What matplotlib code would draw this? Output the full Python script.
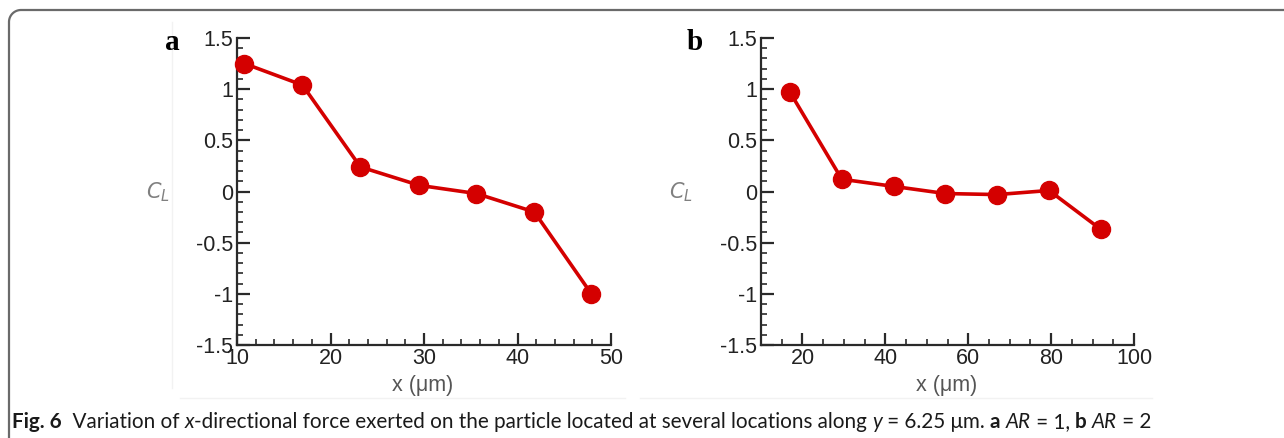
import matplotlib
matplotlib.use("Agg")
import matplotlib.pyplot as plt
from matplotlib.ticker import MultipleLocator, FixedLocator
from matplotlib.lines import Line2D
import numpy as np

# ---- data ----
x_a = [10.8, 17.0, 23.2, 29.5, 35.6, 41.8, 47.9]
cl_a = [1.25, 1.04, 0.24, 0.06, -0.02, -0.20, -1.00]
x_b = [17.0, 29.5, 42.0, 54.5, 67.0, 79.5, 92.0]
cl_b = [0.97, 0.12, 0.05, -0.02, -0.03, 0.01, -0.37]
yticks = [-1.5, -1, -0.5, 0, 0.5, 1, 1.5]
ytick_labels = ["-1.5", "-1", "-0.5", "0", "0.5", "1", "1.5"]
xticks_a = [10, 20, 30, 40, 50]
xticks_b = [20, 40, 60, 80, 100]
panel_labels = ["a", "b"]
xlabel = "x (μm)"

plt.rcParams["font.family"] = ["Liberation Sans", "DejaVu Sans"]
plt.rcParams["mathtext.fontset"] = "dejavusans"

W, H = 1284, 438
fig = plt.figure(figsize=(W / 100, H / 100), dpi=100)
fig.patch.set_facecolor("white")

def fx(px):
    return px / W

def fy(py):
    return 1 - py / H

red = "#d40000"
axcol = "#2a2a2a"

def make_axes(left, right, xlim, xticks, xminor, x, y, label, lx):
    ax = fig.add_axes([fx(left), fy(345), fx(right) - fx(left), fy(38) - fy(345)])
    ax.set_xlim(*xlim)
    ax.set_ylim(-1.5, 1.5)
    for s in ["top", "right"]:
        ax.spines[s].set_visible(False)
    for s in ["left", "bottom"]:
        ax.spines[s].set_linewidth(1.6)
        ax.spines[s].set_color(axcol)
    ax.yaxis.set_major_locator(FixedLocator(yticks))
    ax.set_yticklabels(ytick_labels)
    ax.yaxis.set_minor_locator(MultipleLocator(0.1))
    ax.xaxis.set_major_locator(FixedLocator(xticks))
    ax.set_xticklabels([str(t) for t in xticks])
    ax.xaxis.set_minor_locator(MultipleLocator(xminor))
    ax.tick_params(which="major", direction="in", length=9, width=1.6, color=axcol,
                   labelsize=15.5, labelcolor="#222222", pad=3)
    ax.tick_params(which="minor", direction="in", length=4.5, width=1.2, color=axcol)
    ax.tick_params(axis="x", which="major", pad=2)
    ax.plot(x, y, color=red, lw=2.6, marker="o", markersize=13,
            markerfacecolor=red, markeredgecolor=red, clip_on=False, zorder=3)
    cxp = (left + right) / 2 - 1
    fig.text(fx(cxp), fy(385), xlabel, fontsize=15.5, color="#555555",
             ha="center", va="center")
    fig.text(fx(lx), fy(42), label, fontsize=21, fontweight="bold",
             family="Liberation Serif", ha="center", va="center", color="black")
    fig.text(fx(lx - 14), fy(192), r"$\mathit{C}_{\mathit{L}}$", fontsize=15,
             color="#808080", ha="center", va="center")
    return ax

# faint image-border artifacts
fig.add_artist(Line2D([fx(172), fx(172)], [fy(22), fy(388)], color="#f2f2f2", lw=1))
fig.add_artist(Line2D([fx(180), fx(625)], [fy(398), fy(398)], color="#f2f2f2", lw=1))
fig.add_artist(Line2D([fx(640), fx(1152)], [fy(398), fy(398)], color="#f2f2f2", lw=1))

ax1 = make_axes(237, 611, (10, 50), xticks_a, 2, x_a, cl_a, panel_labels[0], 172)
ax2 = make_axes(761, 1134, (10, 100), xticks_b, 5, x_b, cl_b, panel_labels[1], 695)

# frame: left + top lines with rounded corner
r = 12
theta = np.linspace(np.pi, np.pi / 2, 20)
cx, cy = 9 + r, 10 + r
arc = [(cx + r * np.cos(t), cy - r * np.sin(t)) for t in theta]
pts = [(9, 440)] + arc + [(1290, 10)]
fig.add_artist(Line2D([fx(p[0]) for p in pts], [fy(p[1]) for p in pts],
                      color="#6a6a6a", lw=1.6, solid_capstyle="butt"))

# caption, built from pieces
cap_font = "Lato"
cap_size = 14.85
pieces = [
    ("Fig. 6", "bold", "normal"),
    ("  Variation of ", "normal", "normal"),
    ("x", "normal", "italic"),
    ("-directional force exerted on the particle located at several locations along ", "normal", "normal"),
    ("y", "normal", "italic"),
    (" = 6.25 μm. ", "normal", "normal"),
    ("a", "bold", "normal"),
    (" ", "normal", "normal"),
    ("AR", "normal", "italic"),
    (" = 1, ", "normal", "normal"),
    ("b", "bold", "normal"),
    (" ", "normal", "normal"),
    ("AR", "normal", "italic"),
    (" = 2", "normal", "normal"),
]
renderer = fig.canvas.get_renderer()
xpos = 12
for txt, wt, st in pieces:
    t = fig.text(fx(xpos), fy(428), txt, fontsize=cap_size, fontweight=wt, fontstyle=st,
                 family=cap_font, color="#1a1a1a", ha="left", va="baseline")
    bb = t.get_window_extent(renderer=renderer)
    xpos += bb.width

fig.savefig("out.png", dpi=100, facecolor="white")
